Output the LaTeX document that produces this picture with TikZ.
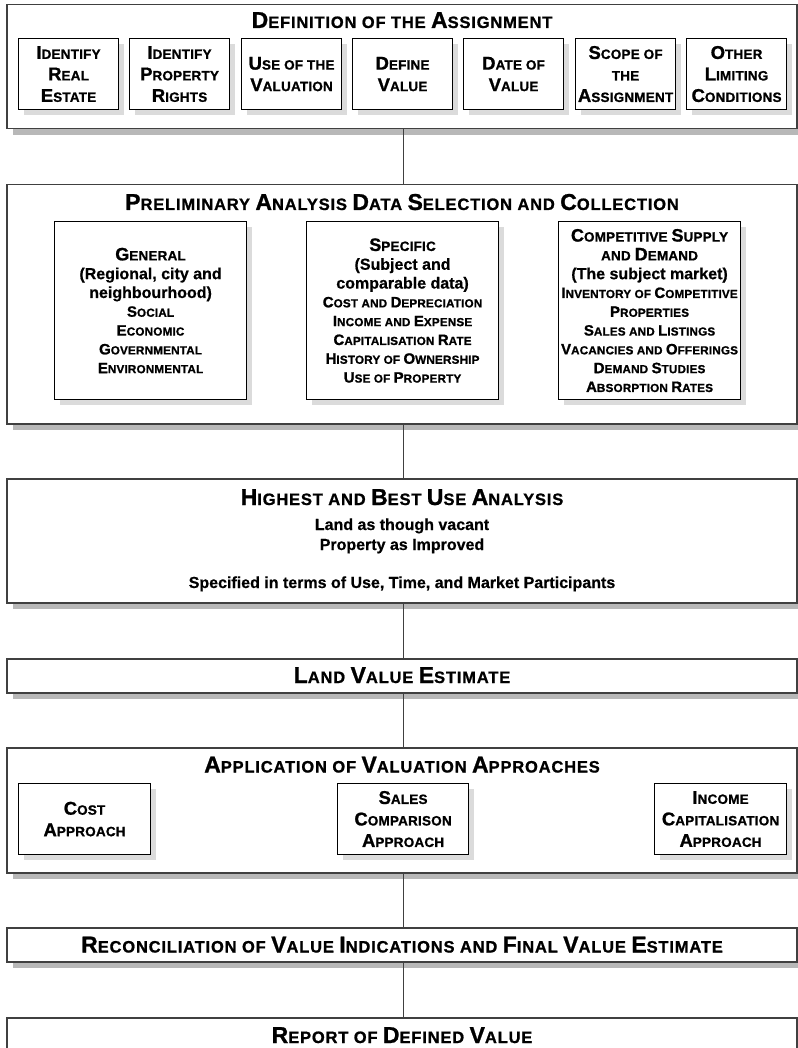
\documentclass[tikz,border=0pt]{standalone}
\usepackage{fontspec}
\usetikzlibrary{shadows}
\newfontfamily\hvt{Liberation Sans Bold}[LetterSpace=5, FakeBold=1]
\newfontfamily\hv{Liberation Sans Bold}[LetterSpace=1.5, FakeBold=1]
\newfontfamily\hvp{Liberation Sans Bold}[FakeBold=0.6]
\definecolor{bord}{gray}{0.25}
\definecolor{shOut}{gray}{0.72}
\definecolor{shIn}{gray}{0.86}
\newcommand\tbig[1]{{\fontsize{23pt}{26pt}\selectfont #1}}
\newcommand\tsml[1]{{\fontsize{16.5pt}{26pt}\selectfont #1}}
\newcommand\bbig[1]{{\fontsize{18.5pt}{21.5pt}\selectfont #1}}
\newcommand\bsml[1]{{\fontsize{13.5pt}{21.5pt}\selectfont #1}}
\newcommand\hbig[1]{{\fontsize{18pt}{18.8pt}\selectfont #1}}
\newcommand\hsml[1]{{\fontsize{13.5pt}{18.8pt}\selectfont #1}}
\newcommand\ibig[1]{{\fontsize{15pt}{18.8pt}\selectfont #1}}
\newcommand\ismall[1]{{\fontsize{11.7pt}{18.8pt}\selectfont #1}}
\newcommand\lcase[1]{{\hvp\fontsize{16pt}{18.8pt}\selectfont #1}}
\tikzset{
  outer/.style={draw=bord, line width=1.5pt, fill=white, anchor=north west, inner sep=0pt,
    minimum width=790pt,
    drop shadow={shadow xshift=6pt, shadow yshift=-6pt, fill=shOut, opacity=1}},
  innerbox/.style={draw=black, line width=1.1pt, fill=white, anchor=north west, inner sep=0pt,
    align=center, font={\hv\fontsize{13.5pt}{21.5pt}\selectfont},
    drop shadow={shadow xshift=5pt, shadow yshift=-5pt, fill=shIn, opacity=1}},
  smallbox/.style={innerbox, minimum width=100pt, minimum height=71pt},
  colbox/.style={innerbox, minimum height=178pt, font={\hv\fontsize{11.7pt}{18.8pt}\selectfont}},
  ttl/.style={anchor=base, inner sep=0pt, font=\hvt},
  plain/.style={anchor=base, inner sep=0pt, font={\hvp\fontsize{16pt}{20pt}\selectfont}},
  conn/.style={draw=bord, line width=1.1pt},
}
\begin{document}
\begin{tikzpicture}[x=1pt,y=-1pt]
\useasboundingbox (0,0) rectangle (797,1048);
% 1 Definition
\node[outer, minimum height=124pt] (def) at (6,4) {};
\node[ttl] (deft) at (402,28) {\tbig{D}\tsml{EFINITION OF THE }\tbig{A}\tsml{SSIGNMENT}};
\node[smallbox] (d1) at (18,38) {\bbig{I}\bsml{DENTIFY}\\\bbig{R}\bsml{EAL}\\\bbig{E}\bsml{STATE}};
\node[smallbox] (d2) at (129,38) {\bbig{I}\bsml{DENTIFY}\\\bbig{P}\bsml{ROPERTY}\\\bbig{R}\bsml{IGHTS}};
\node[smallbox] (d3) at (241,38) {\bbig{U}\bsml{SE OF THE}\\\bbig{V}\bsml{ALUATION}};
\node[smallbox] (d4) at (352,38) {\bbig{D}\bsml{EFINE}\\\bbig{V}\bsml{ALUE}};
\node[smallbox] (d5) at (463,38) {\bbig{D}\bsml{ATE OF}\\\bbig{V}\bsml{ALUE}};
\node[smallbox] (d6) at (575,38) {\bbig{S}\bsml{COPE OF}\\\bsml{THE}\\\bbig{A}\bsml{SSIGNMENT}};
\node[smallbox] (d7) at (686,38) {\bbig{O}\bsml{THER}\\\bbig{L}\bsml{IMITING}\\\bbig{C}\bsml{ONDITIONS}};
% 2 Preliminary
\node[outer, minimum height=239pt] (pre) at (6,184) {};
\node[ttl] (pret) at (402,210) {\tbig{P}\tsml{RELIMINARY }\tbig{A}\tsml{NALYSIS }\tbig{D}\tsml{ATA }\tbig{S}\tsml{ELECTION AND }\tbig{C}\tsml{OLLECTION}};
\node[colbox, minimum width=192pt] (gen) at (54,221) {\hbig{G}\hsml{ENERAL}\\
  \lcase{(Regional, city and}\\\lcase{neighbourhood)}\\
  \ibig{S}\ismall{OCIAL}\\\ibig{E}\ismall{CONOMIC}\\\ibig{G}\ismall{OVERNMENTAL}\\\ibig{E}\ismall{NVIRONMENTAL}};
\node[colbox, minimum width=192pt] (spe) at (306,221) {\hbig{S}\hsml{PECIFIC}\\
  \lcase{(Subject and}\\\lcase{comparable data)}\\
  \ibig{C}\ismall{OST AND }\ibig{D}\ismall{EPRECIATION}\\
  \ibig{I}\ismall{NCOME AND }\ibig{E}\ismall{XPENSE}\\
  \ibig{C}\ismall{APITALISATION }\ibig{R}\ismall{ATE}\\
  \ibig{H}\ismall{ISTORY OF }\ibig{O}\ismall{WNERSHIP}\\
  \ibig{U}\ismall{SE OF }\ibig{P}\ismall{ROPERTY}};
\node[colbox, minimum width=182pt] (com) at (558,221) {\hbig{C}\hsml{OMPETITIVE }\hbig{S}\hsml{UPPLY}\\
  \hsml{AND }\hbig{D}\hsml{EMAND}\\
  \lcase{(The subject market)}\\
  \ibig{I}\ismall{NVENTORY OF }\ibig{C}\ismall{OMPETITIVE}\\
  \ibig{P}\ismall{ROPERTIES}\\
  \ibig{S}\ismall{ALES AND }\ibig{L}\ismall{ISTINGS}\\
  \ibig{V}\ismall{ACANCIES AND }\ibig{O}\ismall{FFERINGS}\\
  \ibig{D}\ismall{EMAND }\ibig{S}\ismall{TUDIES}\\
  \ibig{A}\ismall{BSORPTION }\ibig{R}\ismall{ATES}};
% 3 Highest and best use
\node[outer, minimum height=124pt] (hbu) at (6,478) {};
\node[ttl] (hbut) at (402,505) {\tbig{H}\tsml{IGHEST AND }\tbig{B}\tsml{EST }\tbig{U}\tsml{SE }\tbig{A}\tsml{NALYSIS}};
\node[plain] (hb1) at (402,530) {Land as though vacant};
\node[plain] (hb2) at (402,550) {Property as Improved};
\node[plain] (hb3) at (402,588) {Specified in terms of Use, Time, and Market Participants};
% 4 Land value
\node[outer, minimum height=34pt] (lve) at (6,658) {};
\node[ttl] (lvet) at (402,683) {\tbig{L}\tsml{AND }\tbig{V}\tsml{ALUE }\tbig{E}\tsml{STIMATE}};
% 5 Application
\node[outer, minimum height=125pt] (app) at (6,747) {};
\node[ttl] (appt) at (402,772.5) {\tbig{A}\tsml{PPLICATION OF }\tbig{V}\tsml{ALUATION }\tbig{A}\tsml{PPROACHES}};
\node[innerbox, minimum width=132pt, minimum height=71pt] (cst) at (18,783) {\bbig{C}\bsml{OST}\\\bbig{A}\bsml{PPROACH}};
\node[innerbox, minimum width=131pt, minimum height=71pt] (sal) at (337,783) {\bbig{S}\bsml{ALES}\\\bbig{C}\bsml{OMPARISON}\\\bbig{A}\bsml{PPROACH}};
\node[innerbox, minimum width=132pt, minimum height=71pt] (inc) at (654,783) {\bbig{I}\bsml{NCOME}\\\bbig{C}\bsml{APITALISATION}\\\bbig{A}\bsml{PPROACH}};
% 6 Reconciliation
\node[outer, minimum height=34pt] (rec) at (6,927) {};
\node[ttl] (rect) at (402,952.5) {\tbig{R}\tsml{ECONCILIATION OF }\tbig{V}\tsml{ALUE }\tbig{I}\tsml{NDICATIONS AND }\tbig{F}\tsml{INAL }\tbig{V}\tsml{ALUE }\tbig{E}\tsml{STIMATE}};
% 7 Report
\node[outer, minimum height=60pt] (rep) at (6,1017) {};
\node[ttl] (rept) at (402,1043) {\tbig{R}\tsml{EPORT OF }\tbig{D}\tsml{EFINED }\tbig{V}\tsml{ALUE}};
% connectors
\draw[conn] ([xshift=2pt]def.south) -- ([xshift=2pt]pre.north);
\draw[conn] ([xshift=2pt]pre.south) -- ([xshift=2pt]hbu.north);
\draw[conn] ([xshift=2pt]hbu.south) -- ([xshift=2pt]lve.north);
\draw[conn] ([xshift=2pt]lve.south) -- ([xshift=2pt]app.north);
\draw[conn] ([xshift=2pt]app.south) -- ([xshift=2pt]rec.north);
\draw[conn] ([xshift=2pt]rec.south) -- ([xshift=2pt]rep.north);
\end{tikzpicture}
\end{document}
